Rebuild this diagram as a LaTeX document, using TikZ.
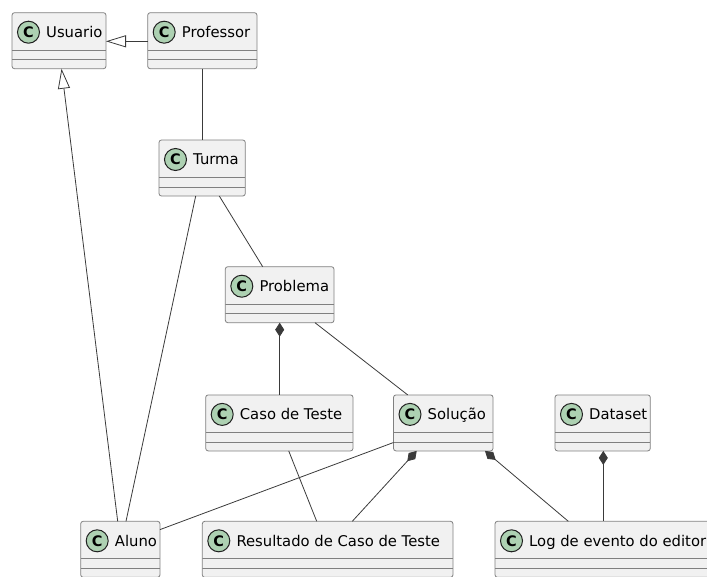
\documentclass[tikz,border=0pt]{standalone}
\usepackage{fontspec}
\setmainfont{DejaVu Sans}
\usetikzlibrary{arrows.meta}

\definecolor{boxfill}{HTML}{F1F1F1}
\definecolor{boxline}{HTML}{808080}
\definecolor{iconfill}{HTML}{ADD1B2}
\definecolor{edgecol}{HTML}{3A3A3A}
\definecolor{iconline}{HTML}{202020}

\tikzset{
  classbox/.style={draw=boxline, fill=boxfill, line width=0.8pt,
    rounded corners=2.5pt, anchor=north west, inner sep=0pt, outer sep=0pt,
    minimum height=56pt,
    path picture={
      \draw[boxline, line width=0.8pt]
        ([yshift=-37.5pt]path picture bounding box.north west) --
        ([yshift=-37.5pt]path picture bounding box.north east)
        ([yshift=-47pt]path picture bounding box.north west) --
        ([yshift=-47pt]path picture bounding box.north east);}},
  classicon/.style={circle, draw=iconline, fill=iconfill, line width=1pt,
    minimum size=22pt, inner sep=0pt,
    font=\fontsize{14.5}{14.5}\selectfont\bfseries},
  classtitle/.style={anchor=base west, inner sep=0pt,
    font=\fontsize{14.8}{17}\selectfont},
  assoc/.style={draw=edgecol, line width=0.8pt},
  inherit/.style={assoc, -{Triangle[open, fill=white, length=20pt, width=12pt]}},
  compose/.style={assoc, {Diamond[length=14pt, width=9pt]}-},
}

% name, left, top, width, title
\newcommand\umlclass[5]{%
  \node[classbox, minimum width=#4pt] (#1) at (#2,#3) {};
  \node[classicon] (#1-icon) at ([shift={(16.5pt,-19.5pt)}]#1.north west) {C};
  \node[classtitle] (#1-title) at ([shift={(34pt,-24.8pt)}]#1.north west) {#5};
}

\begin{document}
\begin{tikzpicture}[x=1pt, y=-1pt]
  \useasboundingbox (0,0) rectangle (707,576);

  \umlclass{usuario}{12}{12.7}{94}{Usuario}
  \umlclass{professor}{147.7}{12.7}{109.3}{Professor}
  \umlclass{turma}{159}{140}{86.3}{Turma}
  \umlclass{problema}{225.3}{266.7}{108.7}{Problema}
  \umlclass{caso}{205.7}{394.9}{147.3}{Caso de Teste}
  \umlclass{solucao}{393.5}{394.9}{99.5}{Solução}
  \umlclass{dataset}{555}{394.9}{95.3}{Dataset}
  \umlclass{aluno}{80.7}{521.3}{79.3}{Aluno}
  \umlclass{resultado}{202.3}{521.3}{250.7}{Resultado de Caso de Teste}
  \umlclass{log}{495}{521.3}{222}{Log de evento do editor}

  % generalisations
  \draw[inherit] ([yshift=-28.6pt]professor.north west) -- ([yshift=-28.6pt]usuario.north east);
  \draw[inherit] ([xshift=37pt]aluno.north west) -- ([xshift=49.5pt]usuario.south west);

  % associations
  \draw[assoc] ([xshift=55pt]professor.south west) -- ([xshift=43.7pt]turma.north west);
  \draw[assoc] ([xshift=60.3pt]turma.south west) -- ([xshift=37.4pt]problema.north west);
  \draw[assoc] ([xshift=36.7pt]turma.south west) -- ([xshift=45.3pt]aluno.north west);
  \draw[assoc] ([xshift=89.7pt]problema.south west) -- ([xshift=14.2pt]solucao.north west);
  \draw[assoc] ([xshift=83pt]caso.south west) -- ([xshift=114.4pt]resultado.north west);
  \draw[assoc] ([yshift=-47.6pt]solucao.north west) -- ([yshift=-8.3pt]aluno.north east);

  % compositions
  \draw[compose] ([xshift=54.4pt]problema.south west) -- ([xshift=74pt]caso.north west);
  \draw[compose] ([xshift=23.2pt]solucao.south west) -- ([xshift=150pt]resultado.north west);
  \draw[compose] ([xshift=91.5pt]solucao.south west) -- ([xshift=73.3pt]log.north west);
  \draw[compose] ([xshift=48.3pt]dataset.south west) -- ([xshift=108.3pt]log.north west);
\end{tikzpicture}
\end{document}
